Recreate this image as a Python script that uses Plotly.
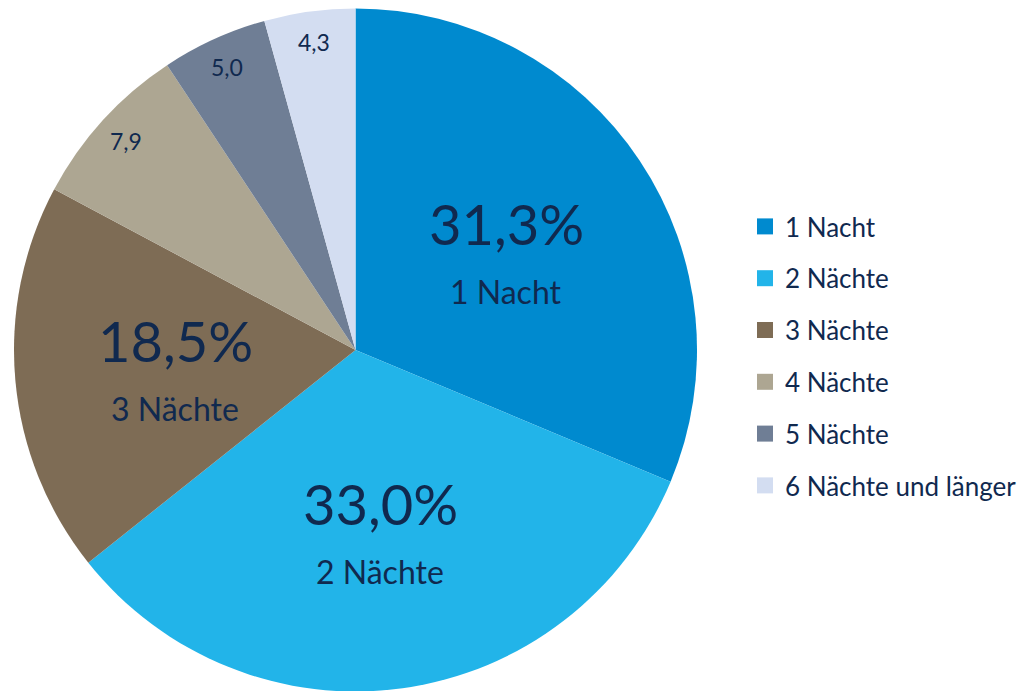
import math
import plotly.graph_objects as go

categories = ["1 Nacht", "2 Nächte", "3 Nächte", "4 Nächte", "5 Nächte", "6 Nächte und länger"]
values = [31.3, 33.0, 18.5, 7.9, 5.0, 4.3]
colors = ["#008ACF", "#22B4E9", "#7E6C55", "#ADA692", "#6F7E95", "#D3DDF1"]

W, H = 1030, 691
TXT = "#10294F"
FONT = "Lato"
OFF = 8  # page body margin in browser

cx, cy, R = 355.5 - OFF, 350.0 - OFF, 341.5

fig = go.Figure()
fig.add_trace(go.Pie(
    labels=categories, values=values, sort=False, direction="clockwise", rotation=0,
    marker=dict(colors=colors, line=dict(width=0)),
    textinfo="none", hoverinfo="label+value", showlegend=False,
    domain=dict(x=[(cx - R) / W, (cx + R) / W], y=[max(0, 1 - (cy + R) / H), min(1, 1 - (cy - R) / H)]),
))

# legend entries via dummy traces (for spacing control)
for i, (c, col) in enumerate(zip(categories, colors)):
    fig.add_trace(go.Scatter(
        x=[None], y=[None], mode="markers", name=c, legendgroup=f"g{i}",
        marker=dict(symbol="square", size=16, color=col), showlegend=True,
    ))

def fmt(v):
    return f"{v:.1f}".replace(".", ",")

total = sum(values)
cum = 0.0
annotations = []
for v, c in zip(values, categories):
    a0 = cum / total * 360
    cum += v
    a1 = cum / total * 360
    mid = math.radians((a0 + a1) / 2)
    share = v / total
    if share > 0.1:
        r = 0.53 * R
        px = cx + r * math.sin(mid)
        py = cy - r * math.cos(mid) + 8
        annotations.append(dict(x=px / W, y=1 - (py - 34) / H, xref="paper", yref="paper",
                                xanchor="center", yanchor="middle",
                                text=fmt(v) + "%", showarrow=False,
                                font=dict(family=FONT, size=56, color=TXT)))
        annotations.append(dict(x=px / W, y=1 - (py + 34) / H, xref="paper", yref="paper",
                                xanchor="center", yanchor="middle",
                                text=c, showarrow=False,
                                font=dict(family=FONT, size=32, color=TXT)))
    else:
        r = 0.91 * R
        px = cx + r * math.sin(mid)
        py = cy - r * math.cos(mid)
        annotations.append(dict(x=px / W, y=1 - py / H, xref="paper", yref="paper",
                                xanchor="center", yanchor="middle",
                                text=fmt(v), showarrow=False,
                                font=dict(family=FONT, size=23, color=TXT)))

fig.update_layout(
    width=W, height=H,
    margin=dict(l=0, r=0, t=0, b=0),
    paper_bgcolor="white", plot_bgcolor="white",
    xaxis=dict(visible=False), yaxis=dict(visible=False),
    annotations=annotations,
    legend=dict(x=(737) / W, xanchor="left", y=1 - (356 - OFF) / H, yanchor="middle",
                font=dict(family=FONT, size=26, color=TXT),
                tracegroupgap=15, itemsizing="trace", bgcolor="rgba(0,0,0,0)"),
    font=dict(family=FONT, color=TXT),
)

fig.write_html("out.html")
